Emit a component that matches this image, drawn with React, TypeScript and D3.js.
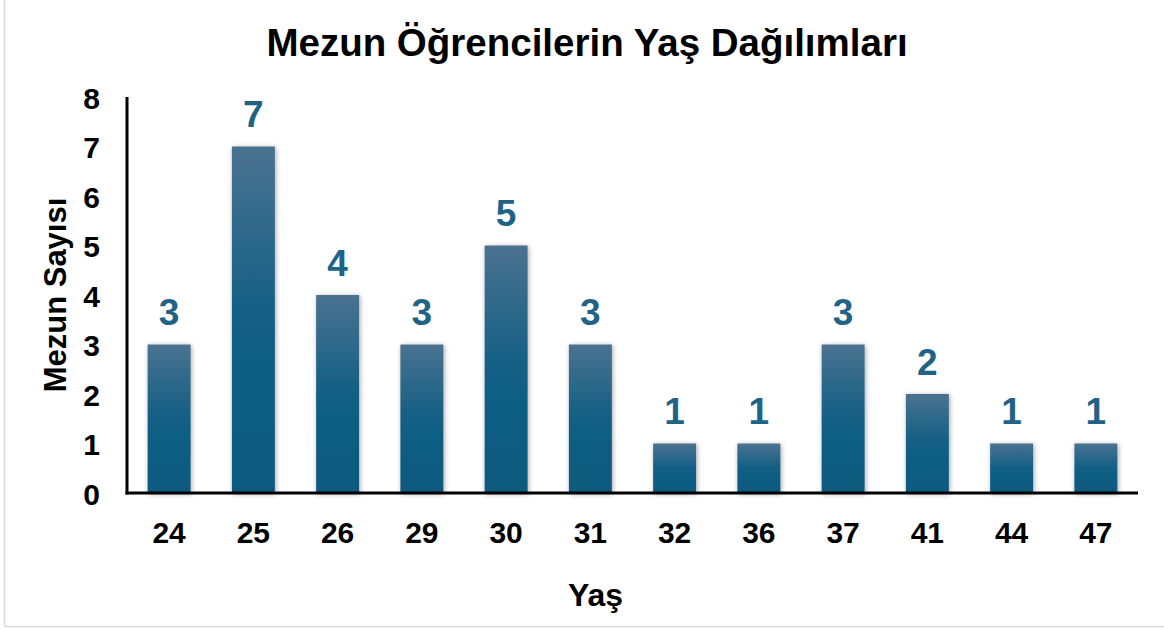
import React from "react";
import * as d3 from "d3";

const categories = ["24", "25", "26", "29", "30", "31", "32", "36", "37", "41", "44", "47"];
const values = [3, 7, 4, 3, 5, 3, 1, 1, 3, 2, 1, 1];
const yTicks = [0, 1, 2, 3, 4, 5, 6, 7, 8];
const title = "Mezun Öğrencilerin Yaş Dağılımları";
const xTitle = "Yaş";
const yTitle = "Mezun Sayısı";

const W = 1164, H = 629;
const left = 127, right = 1138, top = 97, bottom = 493;
const font = "Liberation Sans, Arial, sans-serif";

export default function App() {
  const x = d3.scaleBand<string>().domain(categories).range([left, right]).paddingInner(0.49).paddingOuter(0.245);
  const y = d3.scaleLinear().domain([0, 8]).range([bottom, top]);
  return (
    <svg width={W} height={H} style={{ position: "absolute", left: 0, top: 0 }} fontFamily={font}>
      <defs>
        <linearGradient id="bg" x1="0" y1="0" x2="0" y2="1">
          <stop offset="0" stopColor="#4a7290" />
          <stop offset="0.5" stopColor="#125f84" />
          <stop offset="1" stopColor="#0d5a7e" />
        </linearGradient>
        <filter id="sh" x="-30%" y="-10%" width="160%" height="120%">
          <feDropShadow dx="1" dy="1" stdDeviation="2.5" floodColor="#000" floodOpacity="0.35" />
        </filter>
      </defs>
      <rect x={0} y={0} width={W} height={H} fill="#fff" />
      <line x1={4.5} y1={0} x2={4.5} y2={626.5} stroke="#d9d9d9" strokeWidth={1.5} />
      <line x1={4.5} y1={626.5} x2={W} y2={626.5} stroke="#d9d9d9" strokeWidth={1.5} />
      <text x={587} y={56} textAnchor="middle" fontSize={38.5} fontWeight="bold" fill="#000">{title}</text>
      {categories.map((c, i) => (
        <g key={c}>
          <rect x={x(c)} y={y(values[i])} width={x.bandwidth()} height={y(0) - y(values[i])} fill="url(#bg)" filter="url(#sh)" />
          <text x={(x(c) as number) + x.bandwidth() / 2} y={y(values[i]) - 19.5} textAnchor="middle" fontSize={37} fontWeight="bold" fill="#1f6386">{values[i]}</text>
          <text x={(x(c) as number) + x.bandwidth() / 2} y={543} textAnchor="middle" fontSize={30} fontWeight="bold" fill="#000">{c}</text>
        </g>
      ))}
      {yTicks.map((t) => (
        <text key={t} x={100} y={y(t) + 11.5} textAnchor="end" fontSize={30} fontWeight="bold" fill="#000">{t}</text>
      ))}
      <line x1={left} y1={top} x2={left} y2={bottom + 1.5} stroke="#000" strokeWidth={3} />
      <line x1={left - 1.5} y1={bottom} x2={right} y2={bottom} stroke="#000" strokeWidth={3} />
      <text x={595.5} y={606} textAnchor="middle" fontSize={32} fontWeight="bold" fill="#000">{xTitle}</text>
      <text transform={`translate(66,${295}) rotate(-90)`} textAnchor="middle" fontSize={31} fontWeight="bold" fill="#000">{yTitle}</text>
    </svg>
  );
}
